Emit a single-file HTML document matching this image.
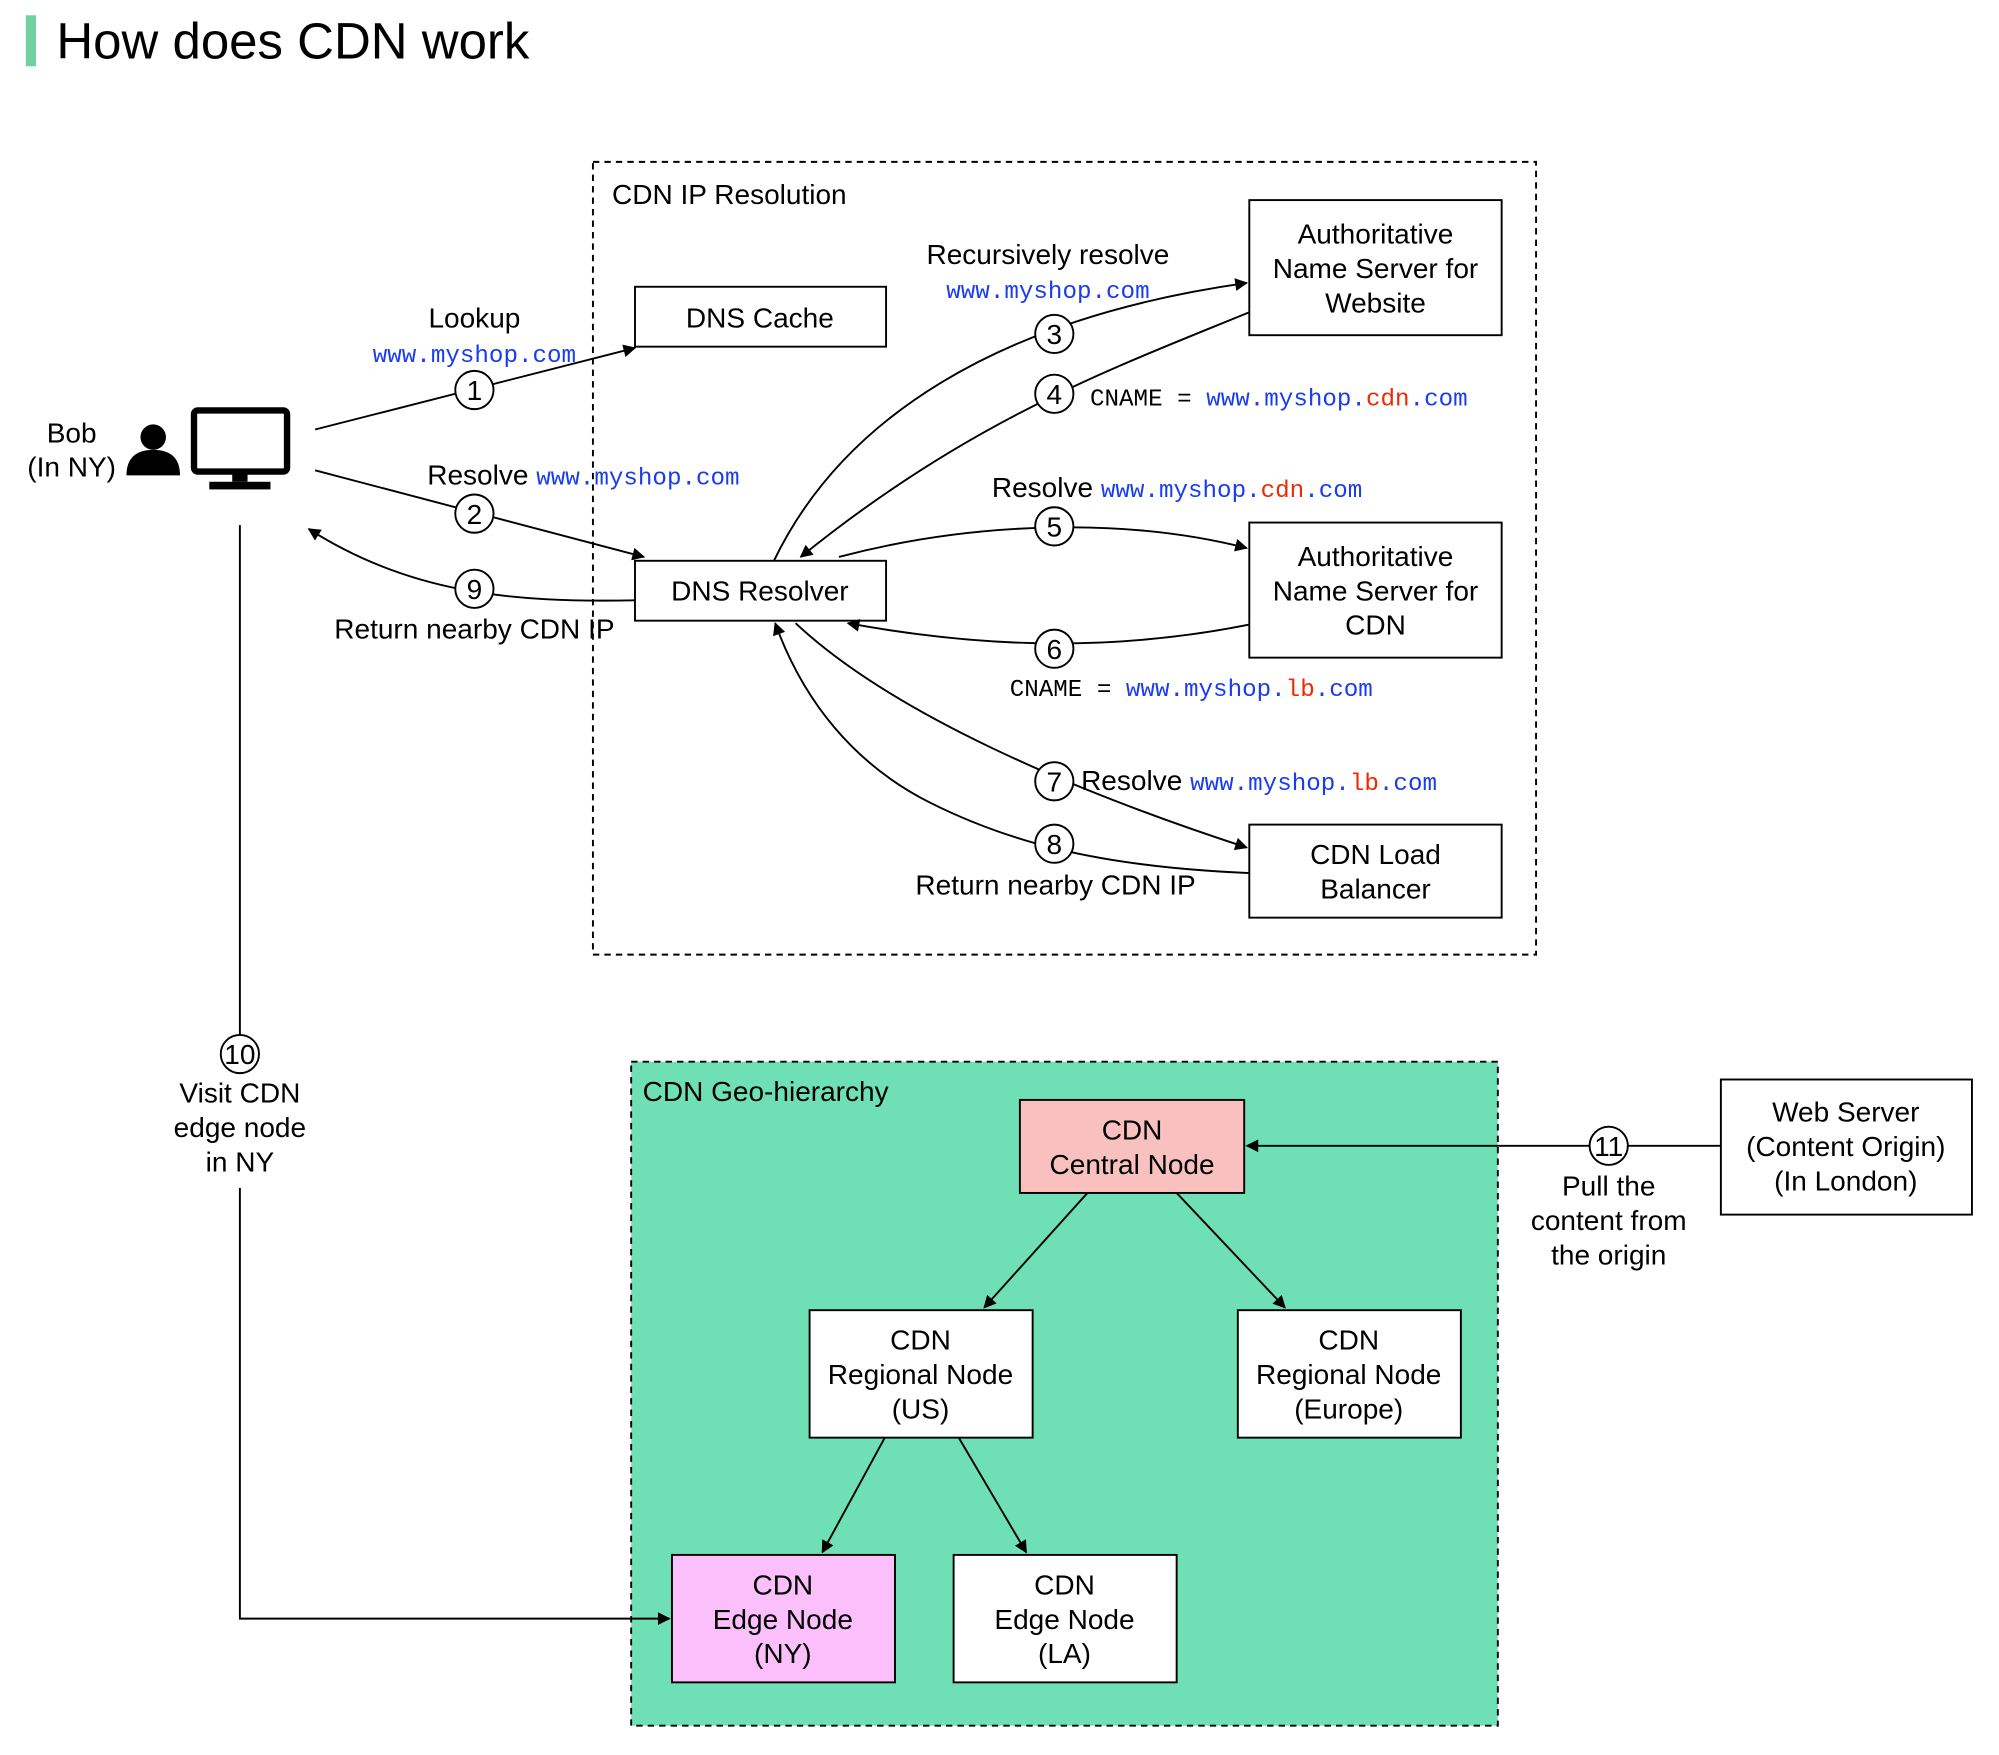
<!DOCTYPE html>
<html><head><meta charset="utf-8"><style>
html,body{margin:0;padding:0;background:#fff;}
svg{display:block;}
text{font-family:"Liberation Sans",sans-serif;font-size:22px;fill:#000;}
.m{font-family:"Liberation Mono",monospace;font-size:19px;}
.b{fill:#1a3cf0;} .r{fill:#f02a00;}
.box{fill:#fff;stroke:#000;stroke-width:1.5;}
.ln{fill:none;stroke:#000;stroke-width:1.5;}
.c{fill:#fff;stroke:#000;stroke-width:1.5;}
</style></head><body>
<svg width="1999" height="1755" viewBox="0 0 1568 1377" xmlns="http://www.w3.org/2000/svg">
<defs><marker id="a" viewBox="0 0 10 10" refX="9" refY="5" markerWidth="11" markerHeight="10" markerUnits="userSpaceOnUse" orient="auto"><path d="M0,0L10,5L0,10z" fill="#000"/></marker></defs>
<rect x="20" y="12" width="8" height="40" fill="#6fd0a0"/>
<text x="44" y="46" style="font-size:40px">How does CDN work</text>

<rect x="465" y="127" width="740" height="622" fill="none" stroke="#000" stroke-width="1.5" stroke-dasharray="5,4"/>
<text x="480" y="160">CDN IP Resolution</text>

<rect class="box" x="498" y="225" width="197" height="47"/><text x="596" y="257" text-anchor="middle">DNS Cache</text>
<rect class="box" x="498" y="440" width="197" height="47"/><text x="596" y="471" text-anchor="middle">DNS Resolver</text>
<rect class="box" x="980" y="157" width="198" height="106"/>
<text x="1079" y="191" text-anchor="middle">Authoritative</text><text x="1079" y="218" text-anchor="middle">Name Server for</text><text x="1079" y="245" text-anchor="middle">Website</text>
<rect class="box" x="980" y="410" width="198" height="106"/>
<text x="1079" y="444" text-anchor="middle">Authoritative</text><text x="1079" y="471" text-anchor="middle">Name Server for</text><text x="1079" y="498" text-anchor="middle">CDN</text>
<rect class="box" x="980" y="647" width="198" height="73"/>
<text x="1079" y="678" text-anchor="middle">CDN Load</text><text x="1079" y="705" text-anchor="middle">Balancer</text>

<text x="56" y="347" text-anchor="middle">Bob</text><text x="56" y="374" text-anchor="middle">(In NY)</text>
<circle cx="120" cy="343" r="10" fill="#000"/><path d="M99,373 Q99,353 120,353 Q141,353 141,373 Z" fill="#000"/>
<rect x="152" y="322" width="73" height="48" rx="3" fill="#fff" stroke="#000" stroke-width="5"/>
<rect x="182" y="370" width="12" height="8" fill="#000"/><rect x="164" y="378" width="48" height="6" fill="#000"/>

<path class="ln" d="M247,337 L498,273" marker-end="url(#a)"/>
<text x="372" y="257" text-anchor="middle">Lookup</text><text x="372" y="284" text-anchor="middle" class="m b">www.myshop.com</text>
<path class="ln" d="M247,369 L505,437" marker-end="url(#a)"/>
<text x="335" y="380">Resolve <tspan class="m b">www.myshop.com</tspan></text>
<path class="ln" d="M498,471 C400,473 320,465 242,415" marker-end="url(#a)"/>
<text x="372" y="501" text-anchor="middle">Return nearby CDN IP</text>
<path class="ln" d="M607,440 C660,330 780,250 978,222" marker-end="url(#a)"/>
<text x="822" y="207" text-anchor="middle">Recursively resolve</text><text x="822" y="234" text-anchor="middle" class="m b">www.myshop.com</text>
<path class="ln" d="M980,245 C870,290 760,330 628,437" marker-end="url(#a)"/>
<text x="855" y="318" class="m">CNAME = <tspan class="b">www.myshop.</tspan><tspan class="r">cdn</tspan><tspan class="b">.com</tspan></text>
<path class="ln" d="M658,437 C760,410 880,405 978,430" marker-end="url(#a)"/>
<text x="778" y="390">Resolve <tspan class="m b">www.myshop.</tspan><tspan class="m r">cdn</tspan><tspan class="m b">.com</tspan></text>
<path class="ln" d="M980,490 C880,510 780,510 665,489" marker-end="url(#a)"/>
<text x="792" y="546" class="m">CNAME = <tspan class="b">www.myshop.</tspan><tspan class="r">lb</tspan><tspan class="b">.com</tspan></text>
<path class="ln" d="M624,489 C700,560 840,620 978,665" marker-end="url(#a)"/>
<text x="848" y="620">Resolve <tspan class="m b">www.myshop.</tspan><tspan class="m r">lb</tspan><tspan class="m b">.com</tspan></text>
<path class="ln" d="M980,685 C860,680 790,660 730,630 C670,600 630,550 608,489" marker-end="url(#a)"/>
<text x="828" y="702" text-anchor="middle">Return nearby CDN IP</text>

<g>
<circle class="c" cx="372" cy="306" r="15"/><text x="372" y="314" text-anchor="middle">1</text>
<circle class="c" cx="372" cy="403" r="15"/><text x="372" y="411" text-anchor="middle">2</text>
<circle class="c" cx="827" cy="262" r="15"/><text x="827" y="270" text-anchor="middle">3</text>
<circle class="c" cx="827" cy="309" r="15"/><text x="827" y="317" text-anchor="middle">4</text>
<circle class="c" cx="827" cy="413" r="15"/><text x="827" y="421" text-anchor="middle">5</text>
<circle class="c" cx="827" cy="509" r="15"/><text x="827" y="517" text-anchor="middle">6</text>
<circle class="c" cx="827" cy="613" r="15"/><text x="827" y="621" text-anchor="middle">7</text>
<circle class="c" cx="827" cy="662" r="15"/><text x="827" y="670" text-anchor="middle">8</text>
<circle class="c" cx="372" cy="462" r="15"/><text x="372" y="470" text-anchor="middle">9</text>
</g>

<rect x="495" y="833" width="680" height="521" fill="#6fe0b6" stroke="#000" stroke-width="1.5" stroke-dasharray="5,4"/>
<text x="504" y="864">CDN Geo-hierarchy</text>
<rect class="box" x="800" y="863" width="176" height="73" style="fill:#f9c0c0"/>
<text x="888" y="894" text-anchor="middle">CDN</text><text x="888" y="921" text-anchor="middle">Central Node</text>
<rect class="box" x="635" y="1028" width="175" height="100"/>
<text x="722" y="1059" text-anchor="middle">CDN</text><text x="722" y="1086" text-anchor="middle">Regional Node</text><text x="722" y="1113" text-anchor="middle">(US)</text>
<rect class="box" x="971" y="1028" width="175" height="100"/>
<text x="1058" y="1059" text-anchor="middle">CDN</text><text x="1058" y="1086" text-anchor="middle">Regional Node</text><text x="1058" y="1113" text-anchor="middle">(Europe)</text>
<rect class="box" x="527" y="1220" width="175" height="100" style="fill:#fbc0fb"/>
<text x="614" y="1251" text-anchor="middle">CDN</text><text x="614" y="1278" text-anchor="middle">Edge Node</text><text x="614" y="1305" text-anchor="middle">(NY)</text>
<rect class="box" x="748" y="1220" width="175" height="100"/>
<text x="835" y="1251" text-anchor="middle">CDN</text><text x="835" y="1278" text-anchor="middle">Edge Node</text><text x="835" y="1305" text-anchor="middle">(LA)</text>
<path class="ln" d="M853,936 L772,1026" marker-end="url(#a)"/>
<path class="ln" d="M923,936 L1008,1026" marker-end="url(#a)"/>
<path class="ln" d="M694,1128 L645,1218" marker-end="url(#a)"/>
<path class="ln" d="M752,1128 L805,1218" marker-end="url(#a)"/>

<rect class="box" x="1350" y="847" width="197" height="106"/>
<text x="1448" y="880" text-anchor="middle">Web Server</text><text x="1448" y="907" text-anchor="middle">(Content Origin)</text><text x="1448" y="934" text-anchor="middle">(In London)</text>
<path class="ln" d="M1350,899 L978,899" marker-end="url(#a)"/>
<circle class="c" cx="1262" cy="899" r="15"/><text x="1262" y="907" text-anchor="middle">11</text>
<text x="1262" y="938" text-anchor="middle">Pull the</text><text x="1262" y="965" text-anchor="middle">content from</text><text x="1262" y="992" text-anchor="middle">the origin</text>

<path class="ln" d="M188,412 L188,812"/>
<circle class="c" cx="188" cy="827" r="15"/><text x="188" y="835" text-anchor="middle">10</text>
<text x="188" y="865" text-anchor="middle">Visit CDN</text><text x="188" y="892" text-anchor="middle">edge node</text><text x="188" y="919" text-anchor="middle">in NY</text>
<path class="ln" d="M188,932 L188,1270 L525,1270" marker-end="url(#a)"/>
</svg>
</body></html>
